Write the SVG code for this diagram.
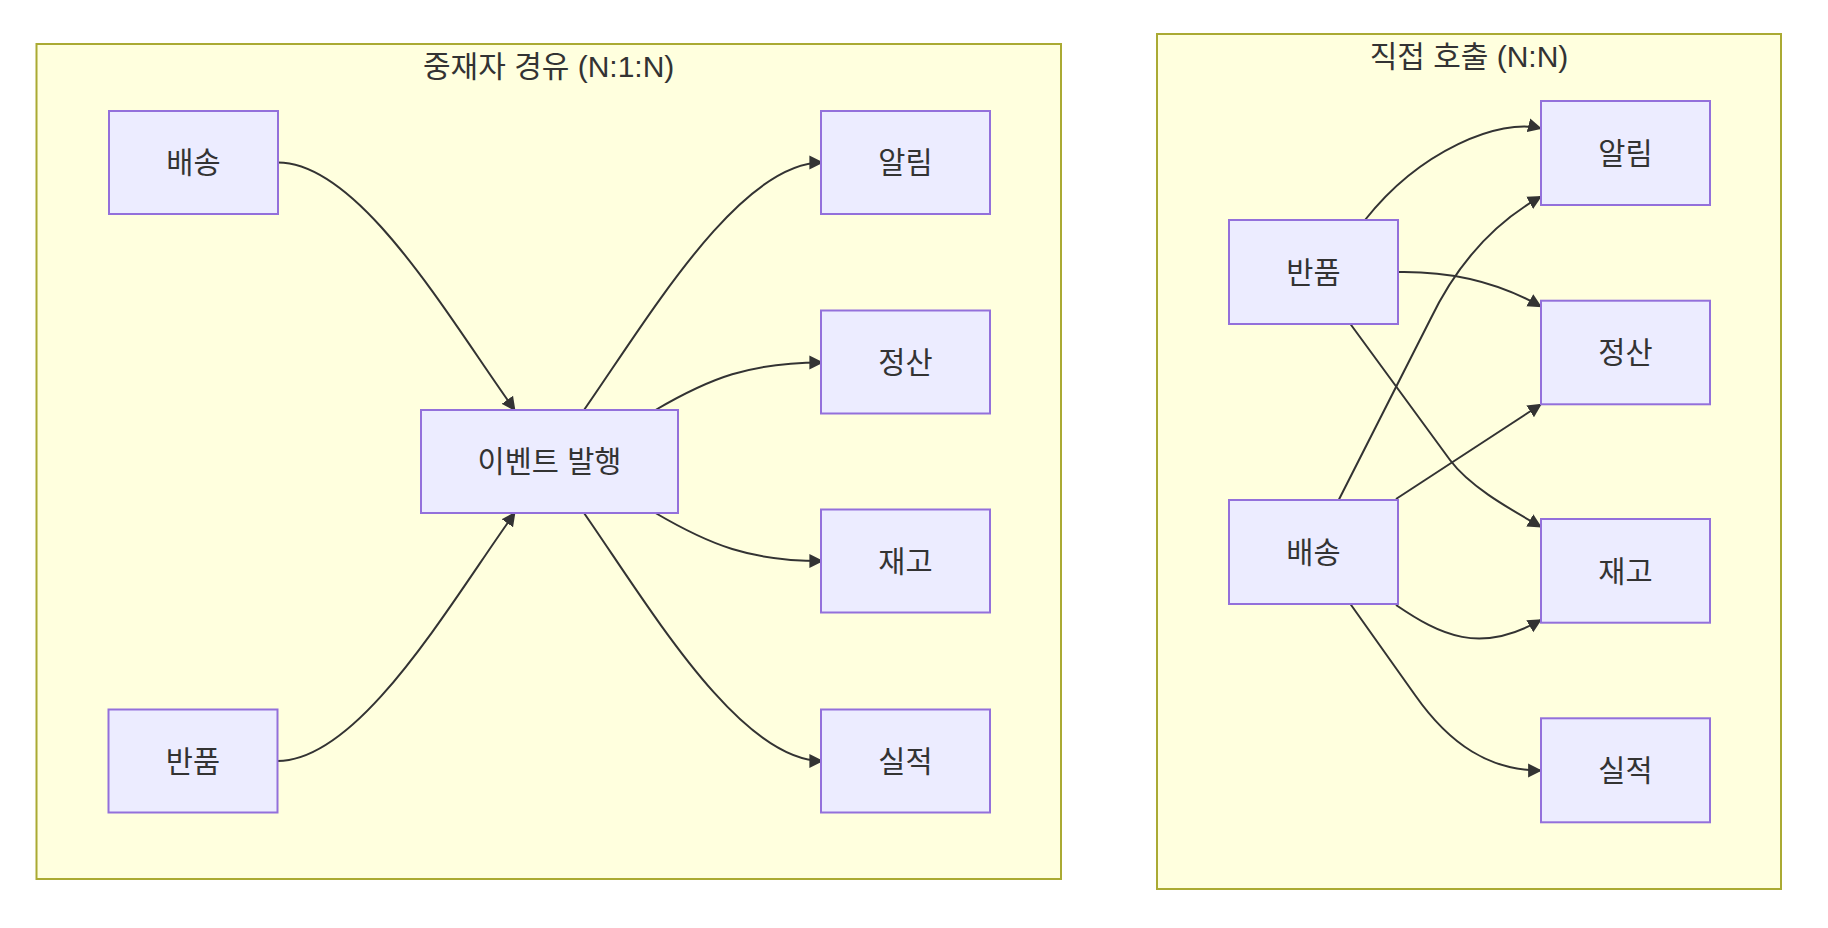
<svg xmlns="http://www.w3.org/2000/svg" width="1828" height="928" viewBox="0 0 1828 928">
<defs>
<marker id="arrow" viewBox="0 0 10 10" refX="9" refY="5" markerUnits="userSpaceOnUse" markerWidth="14" markerHeight="15" orient="auto">
<path d="M0,0 L10,5 L0,10 z" fill="#333333"/>
</marker>
<style>
.cluster{fill:#ffffde;stroke:#aaaa33;stroke-width:2}
.node rect{fill:#ececff;stroke:#9370db;stroke-width:2}
.lbl{font-family:"Liberation Sans","Noto Sans CJK KR",sans-serif;font-size:29.5px;fill:#333333;text-anchor:middle}
.title{font-size:30px}
.edge{fill:none;stroke:#333333;stroke-width:2;marker-end:url(#arrow)}
</style>
</defs>
<rect width="1828" height="928" fill="#ffffff"/>
<g id="cluster-mediator">
<rect class="cluster" x="36.5" y="44" width="1024.5" height="835"/>
<text class="lbl title" x="548.7" y="76.5">중재자 경유 (N:1:N)</text>
</g>
<g id="cluster-direct">
<rect class="cluster" x="1157" y="34" width="624" height="855"/>
<text class="lbl title" x="1469" y="66.5">직접 호출 (N:N)</text>
</g>
<g id="connectors">
<path class="edge" d="M278,162.5 C360,162.5 450,320 514.7,410"/>
<path class="edge" d="M277.5,761 C360,761 450,603 514.7,513"/>
<path class="edge" d="M584,410 C650,315 740,162.5 822,162.5"/>
<path class="edge" d="M655.5,410 C710,378 750,362.5 822,362.5"/>
<path class="edge" d="M655.5,513 C710,545 750,561 822,561"/>
<path class="edge" d="M584,513 C650,608 740,761 822,761"/>
<path class="edge" d="M1365,220 C1420,150 1500,118 1540.7,128.3"/>
<path class="edge" d="M1397.6,272 C1450,271 1500,283 1540.7,306.5"/>
<path class="edge" d="M1338.7,500 L1430,320 C1455,268 1490,225 1540.7,196.7"/>
<path class="edge" d="M1396,499 L1540.7,404.5"/>
<path class="edge" d="M1350.4,324 L1450,460 C1470,487 1510,509 1540.7,526.7"/>
<path class="edge" d="M1396,605 C1440,635 1480,655 1540.7,620"/>
<path class="edge" d="M1350.4,604 L1415,695 C1450,745 1490,770.5 1540.7,770.5"/>
</g>
<g id="node-L-baesong" class="node">
<rect x="109" y="111" width="169" height="103"/>
<text class="lbl" x="193.5" y="173">배송</text>
</g>
<g id="node-L-banpum" class="node">
<rect x="108.5" y="709.5" width="169" height="103"/>
<text class="lbl" x="193" y="771.5">반품</text>
</g>
<g id="node-L-event" class="node">
<rect x="421" y="410" width="257" height="103"/>
<text class="lbl" x="549.5" y="472.2">이벤트 발행</text>
</g>
<g id="node-L-alim" class="node">
<rect x="821" y="111" width="169" height="103"/>
<text class="lbl" x="905.5" y="173">알림</text>
</g>
<g id="node-L-jeongsan" class="node">
<rect x="821" y="310.5" width="169" height="103"/>
<text class="lbl" x="905.5" y="373">정산</text>
</g>
<g id="node-L-jaego" class="node">
<rect x="821" y="509.5" width="169" height="103"/>
<text class="lbl" x="905.5" y="572">재고</text>
</g>
<g id="node-L-siljeok" class="node">
<rect x="821" y="709.5" width="169" height="103"/>
<text class="lbl" x="905.5" y="771.5">실적</text>
</g>
<g id="node-R-banpum" class="node">
<rect x="1229" y="220" width="169" height="104"/>
<text class="lbl" x="1313.5" y="282.5">반품</text>
</g>
<g id="node-R-baesong" class="node">
<rect x="1229" y="500" width="169" height="104"/>
<text class="lbl" x="1313.5" y="562.5">배송</text>
</g>
<g id="node-R-alim" class="node">
<rect x="1541" y="101" width="169" height="104"/>
<text class="lbl" x="1625.5" y="163.5">알림</text>
</g>
<g id="node-R-jeongsan" class="node">
<rect x="1541" y="300.7" width="169" height="103.6"/>
<text class="lbl" x="1625.5" y="363">정산</text>
</g>
<g id="node-R-jaego" class="node">
<rect x="1541" y="519" width="169" height="103.7"/>
<text class="lbl" x="1625.5" y="581.5">재고</text>
</g>
<g id="node-R-siljeok" class="node">
<rect x="1541" y="718.3" width="169" height="104"/>
<text class="lbl" x="1625.5" y="780.8">실적</text>
</g>
</svg>
